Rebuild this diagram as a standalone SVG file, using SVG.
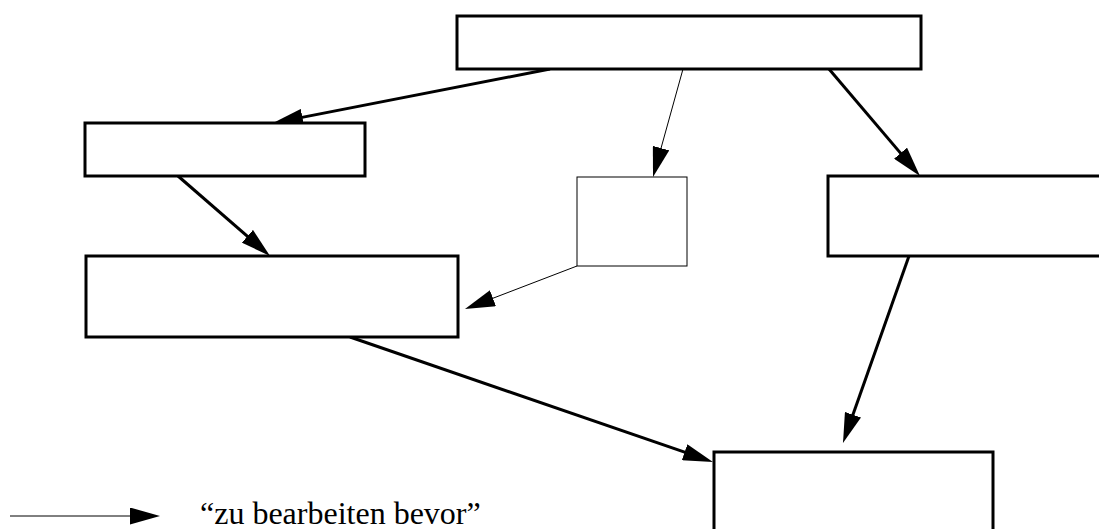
<svg xmlns="http://www.w3.org/2000/svg" width="1099" height="529" viewBox="0 0 1099 529">
  <style>
    .box { fill: #fff; stroke: #000; stroke-width: 3; }
    .box-thin { fill: #fff; stroke: #000; stroke-width: 1; }
    .edge { fill: none; stroke: #000; stroke-width: 3; marker-end: url(#head); }
    .edge-thin { fill: none; stroke: #000; stroke-width: 1; marker-end: url(#head); }
    .legend { font-family: "Liberation Serif", "Times New Roman", serif; font-size: 32px; fill: #000; }
  </style>
  <defs>
    <marker id="head" viewBox="0 0 30 17" refX="20" refY="8.5" markerWidth="30" markerHeight="17" markerUnits="userSpaceOnUse" orient="auto">
      <path d="M0,0 L30,8.5 L0,17 z" fill="#000"/>
    </marker>
  </defs>
  <rect width="1099" height="529" fill="#fff"/>

  <g id="connectors">
    <line class="edge" x1="550" y1="69" x2="282.8" y2="121.1"/>
    <line class="edge" x1="178" y1="176" x2="262.5" y2="249.4"/>
    <line class="edge-thin" x1="683" y1="69" x2="655.7" y2="167.4"/>
    <line class="edge" x1="829" y1="69" x2="913.5" y2="168.4"/>
    <line class="edge-thin" x1="577" y1="266" x2="474.3" y2="305.4"/>
    <line class="edge" x1="350" y1="337" x2="703.5" y2="458.7"/>
    <line class="edge" x1="909" y1="256" x2="846.3" y2="433.6"/>
  </g>

  <g id="node-top"><rect class="box" x="457" y="16" width="464" height="53"/></g>
  <g id="node-left-1"><rect class="box" x="85" y="123" width="280" height="53"/></g>
  <g id="node-left-2"><rect class="box" x="86" y="256" width="372" height="81"/></g>
  <g id="node-middle"><rect class="box-thin" x="577" y="177" width="110" height="89"/></g>
  <g id="node-right"><rect class="box" x="828" y="176" width="280" height="80"/></g>
  <g id="node-bottom"><rect class="box" x="714" y="452" width="279" height="90"/></g>

  <g id="legend">
    <line class="edge-thin" x1="10" y1="516" x2="150" y2="516"/>
    <text class="legend" x="200" y="524">“zu bearbeiten bevor”</text>
  </g>
</svg>
